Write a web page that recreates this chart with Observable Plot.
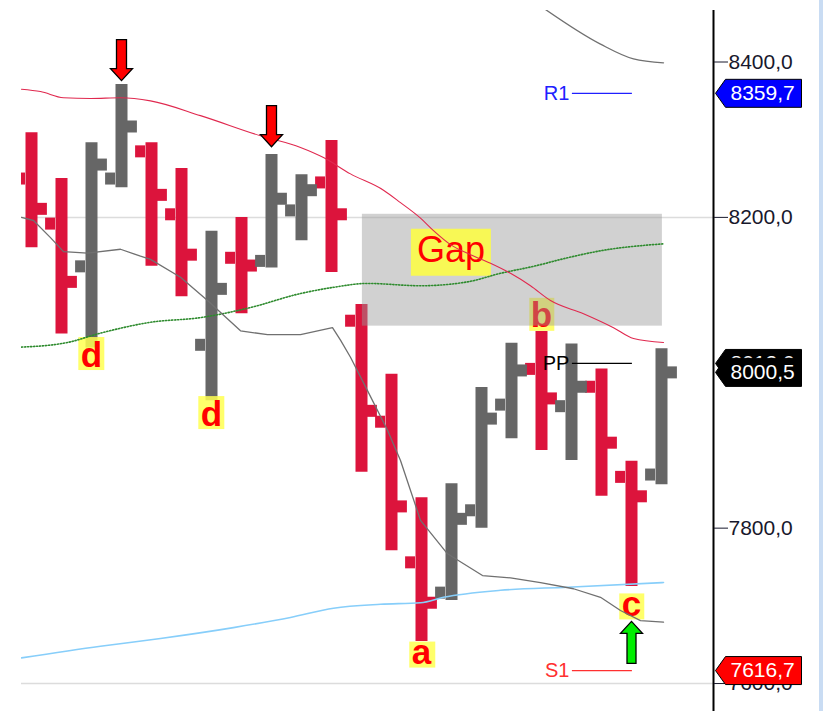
<!DOCTYPE html>
<html><head><meta charset="utf-8">
<script src="https://cdn.jsdelivr.net/npm/d3@7"></script>
<script src="https://cdn.jsdelivr.net/npm/@observablehq/plot@0.6"></script>
<style>
html,body{margin:0;padding:0;background:#fff;}
#wrap{position:relative;width:823px;height:711px;overflow:hidden;}
#wrap svg{display:block;}
#edge{position:absolute;right:0;top:0;width:4px;height:711px;background:#c9dcf3;}
</style></head><body><div id="wrap"></div>
<script>
// ---- OHLC bars (bar index 0..21) ----
const opens  = [8250, 8192, 8137, 8250, 8285, 8204, 8036, 8148, 8144, 8209, 8245, 8067, 7937, 7756, 7717, 7823, 7959, 8005, 7957, 7982, 7866, 7869];
const highs  = [8309, 8250, 8296, 8371, 8296, 8263, 8182, 8200, 8281, 8255, 8299, 8088, 7998, 7839, 7857, 7981, 8038, 8053, 8037, 8005, 7886, 8031];
const lows   = [8161, 8050, 8032, 8238, 8137, 8098, 7964, 8076, 8135, 8170, 8129, 7872, 7771, 7654, 7707, 7800, 7915, 7900, 7887, 7841, 7725, 7856];
const closes = [8211, 8117, 8268, 8317, 8229, 8152, 8108, 8138, 8224, 8235, 8204, 7951, 7828, 7704, 7812, 7941, 8003, 7967, 7982, 7910, 7841, 8000.5];

// ---- indicator lines: [bar index, price] ----
const upperBand = [[-0.333,8365],[0.3,8362],[1.067,8354],[1.967,8353],[2.967,8354],[3.967,8350],[5.633,8331],[7.633,8305],[8.967,8290],[9.733,8277],[10.633,8256],[11.733,8235],[12.3,8219],[12.967,8199],[13.4,8183],[13.967,8165],[14.633,8152],[15.3,8141],[15.967,8128],[16.633,8112],[17.3,8093],[18.4,8076],[19.4,8058],[20.067,8044],[21.067,8039]];
const midLine = [[-0.333,8200],[0.067,8196],[0.633,8174],[1.067,8156],[1.867,8154],[2.967,8159],[3.633,8150],[3.967,8146],[4.967,8123],[5.867,8093],[6.967,8054],[7.867,8049],[8.967,8049],[10.033,8058],[10.3,8042],[10.633,8020],[11.2,7977],[11.867,7926],[12.3,7887],[12.967,7810],[13.867,7767],[15.033,7739],[15.967,7736],[16.967,7730],[18.067,7722],[18.967,7711],[19.633,7694],[20.3,7681],[21.067,7679]];
const topLine = [[16.967,8472],[18.967,8423],[20.067,8404],[21.067,8399]];
const greenLine = [[-0.333,8033],[1.2,8039],[2.3,8051],[3.967,8065],[5.633,8071],[7.3,8084],[8.967,8102],[10.067,8110],[11.2,8115],[12.967,8112],[14.533,8117],[15.633,8128],[16.733,8137],[17.867,8148],[18.967,8157],[21.067,8166]];
const blueLine = [[-0.333,7633],[2.3,7648],[4.3,7658],[6.733,7672],[8.633,7685],[10.067,7697],[11.633,7702],[12.967,7704],[13.733,7711],[15.633,7720],[17.867,7724],[21.067,7730]];

// ---- annotations ----
const gapZone = [{x1: 11.03, x2: 21.03, low: 8060, high: 8204}];
const gapLabel = [{x: 13.98, y: 8155, text: "Gap"}];
const letterLabels = [
  {i: 2, price: 8046, text: "d", side: "below"},
  {i: 6, price: 7970, text: "d", side: "below"},
  {i: 13, price: 7654, text: "a", side: "below"},
  {i: 17, price: 8054, text: "b", side: "above"},
  {i: 20, price: 7716, text: "c", side: "below"}
];
const downArrows = [{i: 3, price: 8376}, {i: 8, price: 8291}];
const upArrows = [{i: 20, price: 7680}];
const levels = [
  {name: "R1", value: 8359.7, color: "#2020ff"},
  {name: "PP", value: 8012.0, color: "#000000"},
  {name: "S1", value: 7616.7, color: "#ff3030"}
];
const levelX1 = 18.03, levelX2 = 20.03;
const tags = [
  {value: 8012.0, label: "8012,0", fill: "#000000"},
  {value: 8000.5, label: "8000,5", fill: "#000000"},
  {value: 8359.7, label: "8359,7", fill: "#0000ff"},
  {value: 7616.7, label: "7616,7", fill: "#ff0000"}
];
const yTicks = [8400, 8200, 7800, 7600];
const gridLines = [8200, 7600];

const xMin = -1/3, xMax = 682/30;
const FONT = "'Liberation Sans', Arial, sans-serif";

const bars = opens.map((o, i) => ({i, open: o, high: highs[i], low: lows[i], close: closes[i]}));
const upBars = bars.filter(d => d.close > d.open);
const downBars = bars.filter(d => d.close <= d.open);

function barMarks(data, color) {
  return [
    Plot.ruleX(data, {x: "i", y1: "low", y2: "high", stroke: color, strokeWidth: 12, clip: true}),
    Plot.ruleY(data, {y: "open", x1: d => d.i - 0.53, x2: d => d.i - 0.2, stroke: color, strokeWidth: 12, clip: true}),
    Plot.ruleY(data, {y: "close", x1: d => d.i + 0.2, x2: d => d.i + 0.53, stroke: color, strokeWidth: 12, clip: true})
  ];
}

const ctx = document.createElement("canvas").getContext("2d");
function ink(text, font) {
  ctx.font = font; ctx.textAlign = "center"; ctx.textBaseline = "alphabetic";
  const m = ctx.measureText(text);
  return {l: m.actualBoundingBoxLeft, r: m.actualBoundingBoxRight, a: m.actualBoundingBoxAscent, d: m.actualBoundingBoxDescent};
}

const letterMarks = letterLabels.flatMap(lab => {
  const b = ink(lab.text, "bold 35px 'Liberation Sans'");
  const pad = 3.5;
  const h = b.a + b.d + 2 * pad;
  const y0 = lab.side === "below" ? 0 : -h;
  const dy = lab.side === "below" ? pad + b.a : -(pad + b.d);
  const sym = {draw(p) { p.rect(-b.l - pad, y0, b.l + b.r + 2 * pad, h); }};
  return [
    Plot.dot([lab], {x: "i", y: "price", symbol: sym, r: 5, fill: "#ffff50", fillOpacity: 0.85, stroke: "none"}),
    Plot.text([lab], {x: "i", y: "price", text: "text", dy, lineAnchor: "bottom", fontSize: 35, fontWeight: "bold", fontFamily: FONT, fill: "#ff0000"})
  ];
});

const gapMarks = gapLabel.flatMap(lab => {
  const b = ink(lab.text, "36px 'Liberation Sans'");
  const px = 7, pt = 7, pb = 6;
  const h = b.a + b.d + pt + pb;
  const sym = {draw(p) { p.rect(-b.l - px, -h / 2, b.l + b.r + 2 * px, h); }};
  return [
    Plot.dot([lab], {x: "x", y: "y", symbol: sym, r: 5, fill: "#ffff40", fillOpacity: 0.85, stroke: "none"}),
    Plot.text([lab], {x: "x", y: "y", text: "text", dy: -h / 2 + pt + b.a, lineAnchor: "bottom", fontSize: 36, fontFamily: FONT, fill: "#ff0000"})
  ];
});

const downArrow = {draw(p) { p.moveTo(0,0); p.lineTo(-11,-12); p.lineTo(-5,-12); p.lineTo(-5,-41); p.lineTo(5,-41); p.lineTo(5,-12); p.lineTo(11,-12); p.closePath(); }};
const upArrow = {draw(p) { p.moveTo(0,0); p.lineTo(-11,12); p.lineTo(-4.5,12); p.lineTo(-4.5,42); p.lineTo(4.5,42); p.lineTo(4.5,12); p.lineTo(11,12); p.closePath(); }};
const tagShape = {draw(p) { p.moveTo(0,0); p.lineTo(10,-14); p.lineTo(86,-14); p.lineTo(86,14); p.lineTo(10,14); p.closePath(); }};

const tagMarks = tags.flatMap(t => [
  Plot.dot([t], {x: xMax, y: "value", symbol: tagShape, r: 5, dx: 2, fill: t.fill, stroke: "#000", strokeWidth: 1}),
  Plot.text([t], {x: xMax, y: "value", text: "label", dx: 17, textAnchor: "start", fill: "#fff", fontSize: 21, fontFamily: FONT})
]);

const line = (data, opts) => Plot.line(data, {x: d => d[0], y: d => d[1], clip: true, ...opts});

const chart = Plot.plot({
  width: 823, height: 711,
  marginLeft: 21, marginRight: 110, marginTop: 10, marginBottom: 0,
  x: {domain: [xMin, xMax], axis: null},
  y: {domain: [7564, 8466.3]},
  style: {fontFamily: FONT, background: "#fff", overflow: "visible"},
  marks: [
    Plot.ruleY(gridLines, {stroke: "#dcdcdc", strokeWidth: 1.5}),
    ...barMarks(downBars, "#dc143c"),
    ...barMarks(upBars, "#666666"),
    ...letterMarks,
    Plot.rect(gapZone, {x1: "x1", x2: "x2", y1: "low", y2: "high", fill: "#999999", fillOpacity: 0.45}),
    ...gapMarks,
    line(blueLine, {stroke: "#87cefa", strokeWidth: 1.6, curve: "monotone-x"}),
    line(greenLine, {stroke: "#2e8b2e", strokeWidth: 1.6, strokeDasharray: "1.2 1.8", curve: "monotone-x"}),
    line(midLine, {stroke: "#707070", strokeWidth: 1.3}),
    line(topLine, {stroke: "#707070", strokeWidth: 1.3, curve: "monotone-x"}),
    line(upperBand, {stroke: "#e0294f", strokeWidth: 1.1, curve: "monotone-x"}),
    Plot.dot(downArrows, {x: "i", y: "price", symbol: downArrow, r: 5, fill: "#ff0000", stroke: "#000", strokeWidth: 1.3}),
    Plot.dot(upArrows, {x: "i", y: "price", symbol: upArrow, r: 5, fill: "#00ee00", stroke: "#000", strokeWidth: 1.3}),
    Plot.ruleY(levels, {y: "value", x1: levelX1, x2: levelX2, stroke: "color", strokeWidth: 1.3}),
    Plot.text(levels, {x: levelX1, y: "value", text: "name", dx: -3, textAnchor: "end", fill: "color", fontSize: 20, fontFamily: FONT}),
    Plot.ruleX([xMax], {stroke: "#000", strokeWidth: 2}),
    Plot.axisY(yTicks, {anchor: "right", tickSize: 14, tickPadding: 1, fontSize: 21, color: "#18182c", label: null,
      tickFormat: d => d.toFixed(1).replace(".", ",")}),
    ...tagMarks
  ]
});
document.getElementById("wrap").appendChild(chart);
const edge = document.createElement("div"); edge.id = "edge";
document.getElementById("wrap").appendChild(edge);
</script>
</body></html>
